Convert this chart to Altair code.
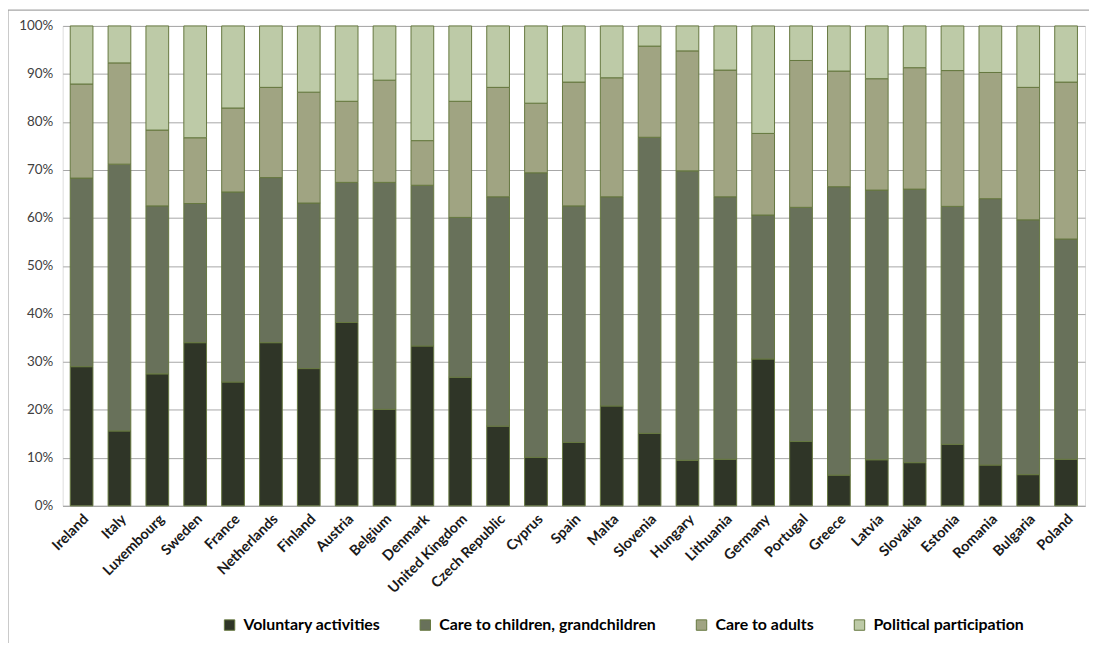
import altair as alt
import pandas as pd

countries = ["Ireland", "Italy", "Luxembourg", "Sweden", "France", "Netherlands", "Finland",
             "Austria", "Belgium", "Denmark", "United Kingdom", "Czech Republic", "Cyprus",
             "Spain", "Malta", "Slovenia", "Hungary", "Lithuania", "Germany", "Portugal",
             "Greece", "Latvia", "Slovakia", "Estonia", "Romania", "Bulgaria", "Poland"]

voluntary = [29.0, 15.6, 27.5, 34.0, 25.8, 34.0, 28.6, 38.2, 20.1, 33.3, 26.8, 16.6, 10.1,
             13.2, 20.8, 15.1, 9.5, 9.7, 30.6, 13.4, 6.4, 9.6, 9.0, 12.8, 8.5, 6.5, 9.7]
care_children = [39.3, 55.6, 35.0, 29.0, 39.6, 34.4, 34.5, 29.2, 47.3, 33.5, 33.3, 47.8, 59.3,
                 49.3, 43.6, 61.7, 60.3, 54.7, 30.0, 48.8, 60.1, 56.2, 57.0, 49.6, 55.5, 53.1, 45.9]
care_adults = [19.6, 21.1, 15.8, 13.7, 17.5, 18.8, 23.1, 16.9, 21.3, 9.3, 24.2, 22.8, 14.5,
               25.8, 24.8, 19.0, 25.0, 26.4, 17.0, 30.6, 24.1, 23.2, 25.3, 28.3, 26.3, 27.6, 32.7]
political = [12.1, 7.7, 21.7, 23.3, 17.1, 12.8, 13.8, 15.7, 11.3, 23.9, 15.7, 12.8, 16.1,
             11.7, 10.8, 4.2, 5.2, 9.2, 22.4, 7.2, 9.4, 11.0, 8.7, 9.3, 9.7, 12.8, 11.7]

series = ["Voluntary activities", "Care to children, grandchildren", "Care to adults",
          "Political participation"]
colors = ["#2f3527", "#68715a", "#a0a482", "#bdcaa7"]

rows = []
for i, c in enumerate(countries):
    for j, (s, vals) in enumerate(zip(series, [voluntary, care_children, care_adults, political])):
        rows.append({"country": c, "series": s, "value": vals[i], "order": j})
df = pd.DataFrame(rows)

font = "Lato"

bars = alt.Chart(df).mark_bar(stroke="#66783f", strokeWidth=1).encode(
    x=alt.X("country:N", sort=countries, title=None,
            scale=alt.Scale(paddingInner=0.4, paddingOuter=0.2),
            axis=alt.Axis(labelAngle=-45, labelFont=font, labelFontWeight="bold",
                          labelFontSize=14.5, labelColor="#1a1a1a", ticks=False,
                          domainColor="#a6a6a6", labelPadding=6)),
    y=alt.Y("value:Q", stack="normalize", title=None,
            axis=alt.Axis(format=".0%", values=[i / 10 for i in range(11)],
                          labelFont=font, labelFontSize=13.5, labelColor="#404040",
                          ticks=False, domain=False, gridColor="#a6a6a6",
                          labelPadding=10)),
    color=alt.Color("series:N", sort=series,
                    scale=alt.Scale(domain=series, range=colors),
                    legend=alt.Legend(title=None, orient="none", direction="horizontal",
                                      legendX=160, legendY=595,
                                      labelFont=font, labelFontWeight="bold",
                                      labelFontSize=16, labelColor="#000000",
                                      symbolType="square", symbolSize=110,
                                      symbolStrokeColor="#66783f", symbolStrokeWidth=1,
                                      columnPadding=37, labelOffset=6, labelLimit=400)),
    order=alt.Order("order:Q"),
)

frame = alt.Chart(pd.DataFrame({"a": [0]})).mark_rect(
    fill=None, stroke="#a6a6a6", strokeWidth=1.2
).encode(x=alt.value(-55), y=alt.value(-16), x2=alt.value(1200), y2=alt.value(800))

chart = alt.layer(frame, bars).properties(
    width=1029, height=483,
    autosize=alt.AutoSizeParams(type="none"),
    padding={"left": 55, "top": 16, "right": 4, "bottom": 136},
).configure_view(stroke=None).configure(background="white")

chart.save("out.html", embed_options={"renderer": "svg", "actions": False})
